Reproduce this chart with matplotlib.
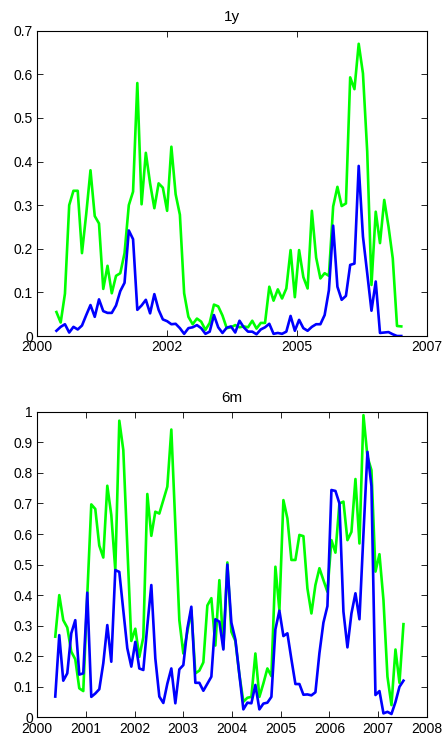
import numpy as np
import pandas as pd
import matplotlib
matplotlib.use('Agg')
import matplotlib.pyplot as plt
import matplotlib.dates as mdates
from matplotlib.ticker import MultipleLocator, FuncFormatter

plt.rcParams['font.family'] = ['Liberation Sans', 'DejaVu Sans']

# observation dates (roughly every 30 days from mid-May 2000)
dates = pd.date_range('2000-05-17', periods=88, freq='30D')

# 1y horizon
green_1y = [0.055, 0.031, 0.097, 0.30, 0.333, 0.333, 0.19, 0.28, 0.38, 0.275,
            0.258, 0.108, 0.161, 0.098, 0.138, 0.144, 0.19, 0.30, 0.331, 0.58,
            0.302, 0.42, 0.35, 0.293, 0.35, 0.34, 0.287, 0.434, 0.325, 0.278,
            0.098, 0.044, 0.027, 0.04, 0.033, 0.014, 0.03, 0.072, 0.068, 0.047,
            0.018, 0.02, 0.025, 0.02, 0.022, 0.02, 0.035, 0.017, 0.03, 0.03,
            0.113, 0.081, 0.107, 0.086, 0.109, 0.197, 0.089, 0.197, 0.135, 0.109,
            0.287, 0.18, 0.132, 0.144, 0.138, 0.297, 0.342, 0.298, 0.304, 0.593,
            0.566, 0.67, 0.602, 0.423, 0.117, 0.285, 0.213, 0.312, 0.251, 0.178,
            0.023, 0.022]
blue_1y = [0.012, 0.021, 0.027, 0.008, 0.021, 0.015, 0.024, 0.048, 0.071, 0.044,
           0.084, 0.057, 0.053, 0.053, 0.07, 0.103, 0.122, 0.242, 0.222, 0.06,
           0.07, 0.083, 0.052, 0.096, 0.06, 0.038, 0.034, 0.027, 0.028, 0.018,
           0.005, 0.018, 0.02, 0.025, 0.018, 0.005, 0.01, 0.048, 0.02, 0.007,
           0.019, 0.022, 0.008, 0.035, 0.02, 0.01, 0.01, 0.004, 0.015, 0.02,
           0.028, 0.005, 0.007, 0.005, 0.01, 0.046, 0.012, 0.037, 0.018, 0.012,
           0.021, 0.027, 0.027, 0.048, 0.105, 0.253, 0.113, 0.083, 0.092, 0.163,
           0.166, 0.39, 0.228, 0.144, 0.058, 0.125, 0.007, 0.008, 0.009, 0.004,
           0.0, 0.0]

# 6m horizon
green_6m = [0.264, 0.40, 0.318, 0.294, 0.215, 0.19, 0.095, 0.086, 0.40, 0.697,
            0.682, 0.562, 0.523, 0.758, 0.662, 0.482, 0.971, 0.875, 0.56, 0.25,
            0.29, 0.198, 0.262, 0.731, 0.594, 0.673, 0.667, 0.711, 0.755, 0.942,
            0.63, 0.318, 0.209, 0.28, 0.35, 0.144, 0.153, 0.18, 0.366, 0.39,
            0.235, 0.449, 0.226, 0.507, 0.28, 0.25, 0.14, 0.051, 0.064, 0.067,
            0.209, 0.067, 0.111, 0.16, 0.135, 0.493, 0.351, 0.711, 0.651, 0.515,
            0.515, 0.597, 0.593, 0.422, 0.34, 0.433, 0.488, 0.449, 0.411, 0.58,
            0.539, 0.70, 0.706, 0.58, 0.607, 0.78, 0.569, 0.989, 0.853, 0.809,
            0.477, 0.534, 0.384, 0.133, 0.04, 0.222, 0.113, 0.305]
blue_6m = [0.068, 0.269, 0.12, 0.144, 0.275, 0.318, 0.14, 0.144, 0.408, 0.067,
           0.078, 0.092, 0.177, 0.302, 0.182, 0.482, 0.476, 0.35, 0.226, 0.166,
           0.247, 0.16, 0.155, 0.30, 0.433, 0.193, 0.068, 0.047, 0.11, 0.16,
           0.046, 0.157, 0.171, 0.29, 0.362, 0.113, 0.113, 0.087, 0.11, 0.133,
           0.321, 0.313, 0.222, 0.50, 0.31, 0.255, 0.14, 0.026, 0.048, 0.046,
           0.106, 0.026, 0.045, 0.048, 0.067, 0.288, 0.349, 0.266, 0.275, 0.19,
           0.109, 0.109, 0.074, 0.075, 0.072, 0.082, 0.21, 0.31, 0.364, 0.744,
           0.741, 0.70, 0.346, 0.229, 0.34, 0.406, 0.321, 0.60, 0.869, 0.757,
           0.073, 0.086, 0.013, 0.018, 0.011, 0.05, 0.10, 0.12]

fig = plt.figure(figsize=(4.44, 7.38), dpi=100)
ax1 = fig.add_axes([0.0833, 0.5447, 0.878, 0.4137])
ax2 = fig.add_axes([0.0833, 0.028, 0.878, 0.414])

yfmt = FuncFormatter(lambda v, p: '%g' % round(v, 2))


def style(ax, title, ytop):
    ax.set_title(title, fontsize=11, pad=7)
    ax.set_ylim(0, ytop)
    ax.yaxis.set_major_locator(MultipleLocator(0.1))
    ax.yaxis.set_major_formatter(yfmt)
    ax.tick_params(direction='in', length=4, width=0.6, labelsize=10,
                   top=True, right=True, pad=3)
    for s in ax.spines.values():
        s.set_linewidth(0.8)


n1 = len(green_1y)
ax1.plot(dates[:n1], green_1y, color=(0, 1, 0), lw=1.9)
ax1.plot(dates[:n1], blue_1y, color=(0, 0, 1), lw=1.9)
x0 = mdates.date2num(pd.Timestamp('2000-01-01'))
x1 = mdates.date2num(dates[-1])
ax1.set_xlim(x0, x1)
ax1.set_xticks(np.linspace(x0, x1, 4))
ax1.xaxis.set_major_formatter(mdates.DateFormatter('%Y'))
style(ax1, '1y', 0.7)

ax2.plot(dates, green_6m, color=(0, 1, 0), lw=1.9)
ax2.plot(dates, blue_6m, color=(0, 0, 1), lw=1.9)
ax2.set_xlim(pd.Timestamp('2000-01-01'), pd.Timestamp('2008-01-01'))
ax2.xaxis.set_major_locator(mdates.YearLocator())
ax2.xaxis.set_major_formatter(mdates.DateFormatter('%Y'))
style(ax2, '6m', 1.0)

fig.savefig('out.png', dpi=100)
